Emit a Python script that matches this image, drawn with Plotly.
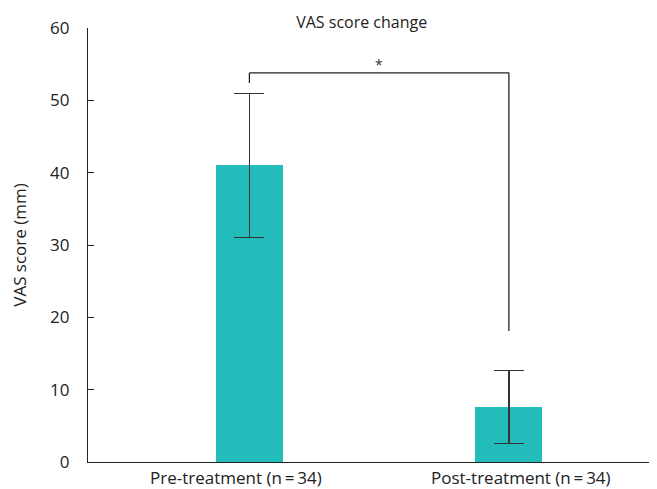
import plotly.graph_objects as go

categories = ["Pre-treatment (n\u2009=\u200934)", "Post-treatment (n\u2009=\u200934)"]
means = [41.0, 7.6]
sds = [10.0, 5.0]
y_ticks = [0, 10, 20, 30, 40, 50, 60]
bracket_top = 53.8
bracket_left_end = 52.4
bracket_right_end = 18.1
sig_label = "*"

teal = "#22BDBB"
ink = "#222222"
font_family = "Open Sans, Noto Sans, sans-serif"

fig = go.Figure()
fig.add_trace(go.Bar(
    x=categories, y=means,
    width=0.258,
    marker=dict(color=teal, line=dict(width=0)),
    error_y=dict(type="data", array=sds, visible=True, color="#333333",
                 thickness=1.2, width=15),
    showlegend=False,
))

# category labels (slightly offset from bar centres, as in the original)
label_shifts = [-13, 12]
for cat, shift in zip(categories, label_shifts):
    fig.add_annotation(x=cat, y=0, xref="x", yref="y", text=cat, showarrow=False,
                       yanchor="top", yshift=-3, xshift=shift, borderpad=0,
                       font=dict(size=17, color=ink, family=font_family))

# significance bracket
for (xa, xb, ya, yb) in [(0, 0, bracket_left_end, bracket_top),
                         (0, 1, bracket_top, bracket_top),
                         (1, 1, bracket_right_end, bracket_top)]:
    fig.add_shape(type="line", xref="x", yref="y", x0=xa, x1=xb, y0=ya, y1=yb,
                  line=dict(color=ink, width=1.3))
fig.add_annotation(x=0.5, y=bracket_top, xref="x", yref="y", text=sig_label, showarrow=False,
                   yanchor="bottom", yshift=-3, font=dict(size=14, color="#333333", family=font_family))
# small tick at the right end of x axis
fig.add_shape(type="line", xref="paper", yref="paper", x0=1, x1=1, y0=0, y1=0.013,
              line=dict(color=ink, width=1.3))

fig.update_layout(
    width=649, height=481,
    margin=dict(l=80, r=2, t=20, b=27),
    plot_bgcolor="white", paper_bgcolor="white",
    title=dict(text="VAS score change", x=0.545, xanchor="center", y=0.971, yanchor="middle",
               font=dict(size=16, color=ink, family=font_family)),
    font=dict(family=font_family, color=ink),
    xaxis=dict(range=[-0.622, 1.563], showline=True, linecolor=ink, linewidth=1.3,
               ticks="", showticklabels=False,
               showgrid=False, zeroline=False, fixedrange=True),
    yaxis=dict(range=[0, 60], tickvals=y_ticks, showline=True, linecolor=ink, linewidth=1.3,
               ticks="inside", ticklen=6, tickcolor=ink, tickwidth=1.3,
               tickfont=dict(size=17, family=font_family, color=ink),
               showgrid=False, zeroline=False, ticklabelstandoff=14,
               title=dict(text="VAS score (mm)", font=dict(size=17, family=font_family, color=ink),
                          standoff=24)),
    bargap=0,
)

fig.write_html("out.html")
